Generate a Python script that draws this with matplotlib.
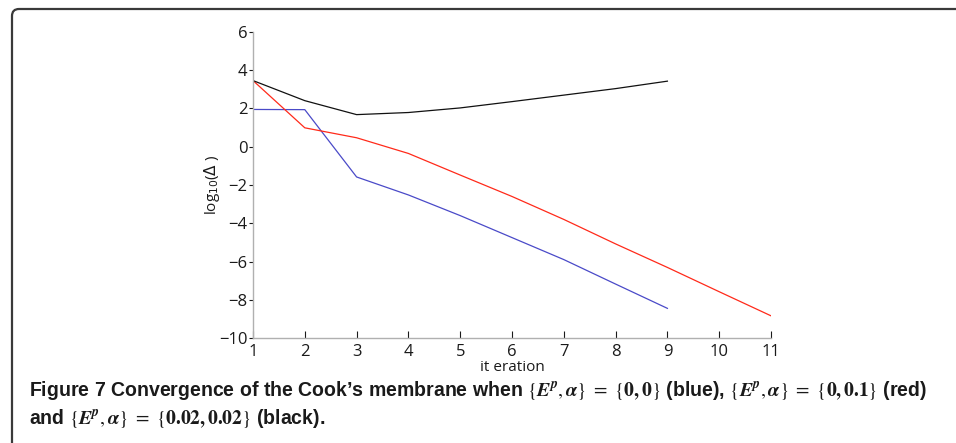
import matplotlib
matplotlib.use("Agg")
import matplotlib.pyplot as plt
from matplotlib.path import Path
from matplotlib.patches import PathPatch
from matplotlib import font_manager

# Data
iter_blue = [1, 2, 3, 4, 5, 6, 7, 8, 9]
log_blue = [1.95, 1.94, -1.58, -2.52, -3.60, -4.75, -5.90, -7.18, -8.45]

iter_red = [1, 2, 3, 4, 5, 6, 7, 8, 9, 10, 11]
log_red = [3.46, 0.99, 0.47, -0.35, -1.48, -2.60, -3.80, -5.08, -6.31, -7.58, -8.84]

iter_black = [1, 2, 3, 4, 5, 6, 7, 8, 9]
log_black = [3.46, 2.41, 1.68, 1.79, 2.03, 2.36, 2.70, 3.04, 3.43]

xticks = list(range(1, 12))
yticks = [-10, -8, -6, -4, -2, 0, 2, 4, 6]

W, H = 956, 443
SPINE = "#b0b0b0"
TXT = "#1a1a1a"

names = {f.name for f in font_manager.fontManager.ttflist}
tick_font = "Open Sans" if "Open Sans" in names else "DejaVu Sans"
cap_font = "Liberation Sans Narrow" if "Liberation Sans Narrow" in names else "Liberation Sans"

plt.rcParams["mathtext.fontset"] = "stix"

fig = plt.figure(figsize=(W / 100, H / 100), dpi=100)
ax = fig.add_axes([253 / W, 1 - 338 / H, 518 / W, 306 / H])

ax.plot(iter_blue, log_blue, color="#4a4ac8", linewidth=0.9)
ax.plot(iter_red, log_red, color="#ff2a1a", linewidth=0.9)
ax.plot(iter_black, log_black, color="#111111", linewidth=0.9)

ax.set_xlim(1, 11)
ax.set_ylim(-10, 6)
ax.set_xticks(xticks)
ax.set_yticks(yticks)
ax.set_yticklabels([f"{v}".replace("-", "\u2212") for v in yticks])
for s in ("top", "right"):
    ax.spines[s].set_visible(False)
for s in ("left", "bottom"):
    ax.spines[s].set_color(SPINE)
    ax.spines[s].set_linewidth(1.0)
ax.tick_params(axis="x", direction="in", length=5, width=0.8, color=TXT,
               labelsize=12, labelcolor=TXT, pad=4)
ax.tick_params(axis="y", direction="out", length=3, width=0.8, color=TXT,
               labelsize=12, labelcolor=TXT, pad=1)
for lab in ax.get_xticklabels() + ax.get_yticklabels():
    lab.set_fontfamily(tick_font)

ax.set_xlabel("it eration", fontsize=11, family=tick_font, color=TXT, labelpad=0)
ax.set_ylabel(r"log$_{10}$($\Delta$ )", fontsize=11, family=tick_font, color=TXT, labelpad=-2,
              math_fontfamily="dejavusans")

# Frame with rounded top-left corner
x0, y0, r = 12 / W, 1 - 9 / H, 7
verts = [(x0, -0.01), (x0, y0 - r / H), (x0, y0), (x0 + r / W, y0), (1.01, y0)]
codes = [Path.MOVETO, Path.LINETO, Path.CURVE3, Path.CURVE3, Path.LINETO]
fig.add_artist(PathPatch(Path(verts, codes), transform=fig.transFigure,
                         fill=False, edgecolor="#3a3a3a", linewidth=1.6))

cap1 = (r"Figure 7 Convergence of the Cook’s membrane when $\{\mathbfit{E}^{\mathbfit{p}}, \mathbfit{\alpha}\}\ =\ \{\mathbf{0, 0}\}$ (blue), "
        r"$\{\mathbfit{E}^{\mathbfit{p}}, \mathbfit{\alpha}\}\ =\ \{\mathbf{0, 0.1}\}$ (red)")
cap2 = r"and $\{\mathbfit{E}^{\mathbfit{p}}, \mathbfit{\alpha}\}\ =\ \{\mathbf{0.02, 0.02}\}$ (black)."
t1 = fig.text(29 / W, 1 - 391 / H, cap1, fontsize=14, fontweight="bold", family=cap_font,
              color=TXT, va="center", ha="left")
t2 = fig.text(29 / W, 1 - 419 / H, cap2, fontsize=14, fontweight="bold", family=cap_font,
              color=TXT, va="center", ha="left")

# size caption so line one spans the same width as in the figure
renderer = fig.canvas.get_renderer()
w1 = t1.get_window_extent(renderer).width
fs = 14 * 903 / w1
t1.set_fontsize(fs)
t2.set_fontsize(fs)

fig.savefig("out.png", dpi=100)
